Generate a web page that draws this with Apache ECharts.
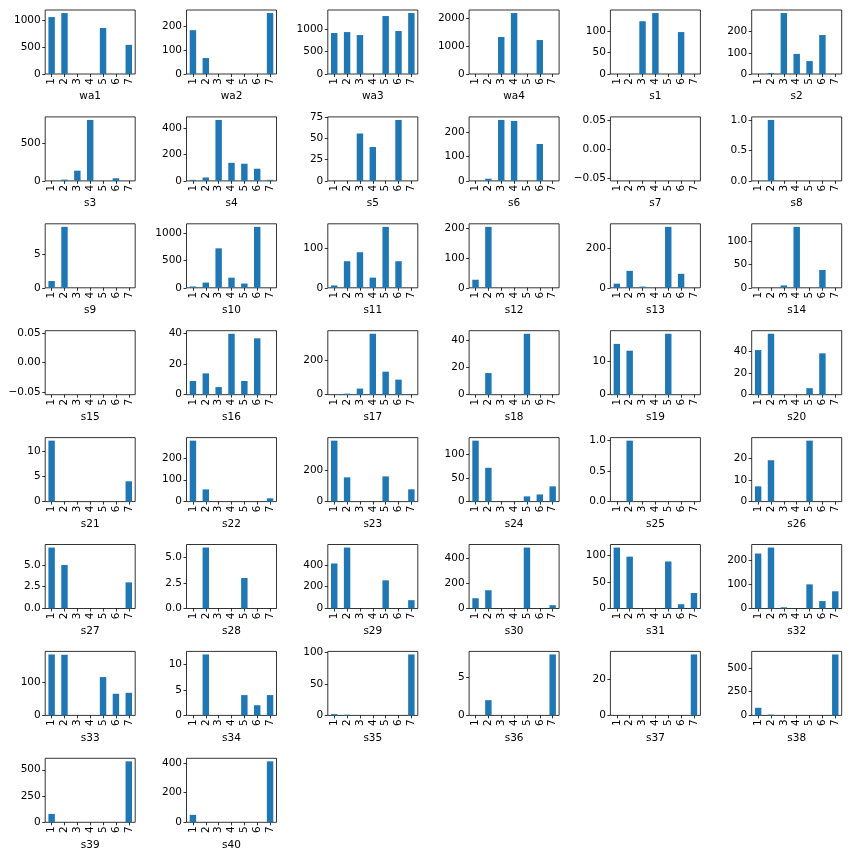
<!DOCTYPE html>
<html><head><meta charset="utf-8">
<script src="https://cdn.jsdelivr.net/npm/echarts@6/dist/echarts.min.js"></script>
<style>html,body{margin:0;padding:0;background:#fff}#c{width:856px;height:856px}</style>
</head><body><div id="c"></div>
<script>
const categories = ['1','2','3','4','5','6','7'];
const panelNames = ['wa1','wa2','wa3','wa4','s1','s2','s3','s4','s5','s6','s7','s8','s9','s10','s11','s12','s13','s14','s15','s16','s17','s18','s19','s20','s21','s22','s23','s24','s25','s26','s27','s28','s29','s30','s31','s32','s33','s34','s35','s36','s37','s38','s39','s40'];

const wa1 = [1065,1140,0,0,860,0,545];
const wa2 = [184,67,0,0,0,0,256];
const wa3 = [918,940,873,0,1299,963,1366];
const wa4 = [0,0,1329,2190,0,1220,0];
const s1 = [0,0,122,141,0,97,0];
const s2 = [0,5,288,95,61,184,0];
const s3 = [0,17,135,805,0,35,0];
const s4 = [8,26,465,138,131,93,8];
const s5 = [0,0,56,40,0,72,0];
const s6 = [0,9,251,247,0,152,0];
const s7 = [0,0,0,0,0,0,0];
const s8 = [0,1,0,0,0,0,0];
const s9 = [1,9,0,0,0,0,0];
const s10 = [24,96,725,186,78,1120,0];
const s11 = [6,68,91,26,156,68,0];
const s12 = [27,204,0,0,0,0,0];
const s13 = [21,86,6,0,309,71,0];
const s14 = [0,0,5,130,0,38,0];
const s15 = [0,0,0,0,0,0,0];
const s16 = [9,14,5,40,9,37,0];
const s17 = [0,6,35,352,133,87,0];
const s18 = [0,16,0,0,45,0,0];
const s19 = [15,13,0,0,18,0,0];
const s20 = [41,56,0,0,6,38,0];
const s21 = [12,0,0,0,0,0,4];
const s22 = [279,56,0,0,0,0,15];
const s23 = [387,154,0,0,160,0,78];
const s24 = [128,71,0,0,11,15,32];
const s25 = [0,1,0,0,0,0,0];
const s26 = [7,19,0,0,28,0,0];
const s27 = [7,5,0,0,0,0,3];
const s28 = [0,6,0,0,3,0,0];
const s29 = [412,558,0,0,258,0,76];
const s30 = [81,144,0,0,481,0,26];
const s31 = [114,97,0,0,88,8,29];
const s32 = [230,255,5,0,101,31,72];
const s33 = [186,185,0,0,117,66,69];
const s34 = [0,12,0,0,4,2,4];
const s35 = [2,1,0,0,0,0,97];
const s36 = [0,2,0,0,0,0,8];
const s37 = [0,0,0,0,0,0,34];
const s38 = [80,8,0,0,0,0,640];
const s39 = [80,0,0,0,0,0,580];
const s40 = [50,0,0,0,0,0,410];

const panelValues = [wa1,wa2,wa3,wa4,s1,s2,s3,s4,s5,s6,s7,s8,s9,s10,s11,s12,s13,s14,s15,s16,s17,s18,s19,s20,s21,s22,s23,s24,s25,s26,s27,s28,s29,s30,s31,s32,s33,s34,s35,s36,s37,s38,s39,s40];

const yTickLabels = [
  ['0','500','1000'],['0','100','200'],['0','500','1000'],['0','1000','2000'],['0','50','100'],['0','100','200'],
  ['0','500'],['0','200','400'],['0','25','50','75'],['0','100','200'],['\u22120.05','0.00','0.05'],['0.0','0.5','1.0'],
  ['0','5'],['0','500','1000'],['0','100'],['0','100','200'],['0','200'],['0','50','100'],
  ['\u22120.05','0.00','0.05'],['0','20','40'],['0','200'],['0','20','40'],['0','10'],['0','20','40'],
  ['0','5','10'],['0','100','200'],['0','200'],['0','50','100'],['0.0','0.5','1.0'],['0','10','20'],
  ['0.0','2.5','5.0'],['0.0','2.5','5.0'],['0','200','400'],['0','200','400'],['0','50','100'],['0','100','200'],
  ['0','100'],['0','5','10'],['0','50','100'],['0','5'],['0','20'],['0','250','500'],
  ['0','250','500'],['0','200','400']
];

const chart = echarts.init(document.getElementById('c'), null, {renderer:'canvas'});
const FONT = 'DejaVu Sans';
const FS = 10.5;
const grids = [], xAxes = [], yAxes = [], series = [];
panelNames.forEach((name, i) => {
  const r = Math.floor(i / 6), c = i % 6;
  grids.push({left: 45.2 + 141.3 * c, top: 10 + 106.9 * r, width: 90, height: 64,
    show: true, borderColor: '#000', borderWidth: 0.8, backgroundColor: 'transparent', containLabel: false});
  const vals = panelValues[i];
  const mx = Math.max(...vals);
  const lo = mx === 0 ? -0.055 : 0;
  const hi = mx === 0 ? 0.055 : mx * 1.05;
  const labels = yTickLabels[i];
  const tickVals = labels.map(s => parseFloat(s.replace('\u2212', '-')));
  xAxes.push({gridIndex: i, type: 'category', data: categories, boundaryGap: true, position: 'bottom',
    name: name, nameLocation: 'middle', nameGap: 17,
    nameTextStyle: {fontFamily: FONT, fontSize: FS, color: '#000'},
    axisLine: {show: false, onZero: false},
    axisTick: {show: true, alignWithLabel: true, length: 3, lineStyle: {color: '#000', width: 0.8}},
    axisLabel: {rotate: 90, margin: 4, fontFamily: FONT, fontSize: FS, color: '#000', interval: 0},
    splitLine: {show: false}});
  yAxes.push({gridIndex: i, type: 'value', min: lo, max: hi,
    axisLine: {show: false, onZero: false},
    splitLine: {show: false},
    axisTick: {show: true, length: 3, lineStyle: {color: '#000', width: 0.8}, customValues: tickVals},
    axisLabel: {margin: 4.5, fontFamily: FONT, fontSize: FS, color: '#000', customValues: tickVals,
      formatter: v => { const k = tickVals.findIndex(t => Math.abs(t - v) < 1e-9); return k >= 0 ? labels[k] : ''; }}});
  series.push({type: 'bar', xAxisIndex: i, yAxisIndex: i,
    data: vals.map(v => (v === 0 ? '-' : v)), barWidth: '50%',
    itemStyle: {color: '#1f77b4'}, silent: true, animation: false});
});
chart.setOption({animation: false, grid: grids, xAxis: xAxes, yAxis: yAxes, series: series});
</script></body></html>
